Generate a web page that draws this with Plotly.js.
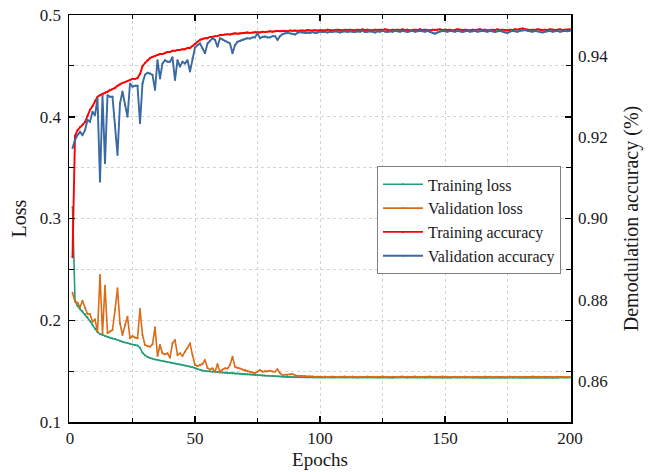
<!DOCTYPE html>
<html>
<head>
<meta charset="utf-8">
<script src="https://cdn.plot.ly/plotly-3.0.1.min.js"></script>
<style>html,body{margin:0;padding:0;background:#fff;}#chart{width:656px;height:472px;}</style>
</head>
<body>
<div id="chart"></div>
<script>
const epochs = Array.from({length: 200}, (_, i) => i + 1);

const trainLoss = [
0.3113,0.2199,0.2140,0.2111,0.2091,0.2061,0.2032,0.1993,0.1953,0.1914,
0.1884,0.1865,0.1855,0.1845,0.1835,0.1826,0.1821,0.1816,0.1806,0.1796,
0.1786,0.1781,0.1776,0.1767,0.1762,0.1757,0.1752,0.1730,0.1680,0.1655,
0.1640,0.1630,0.1622,0.1614,0.1609,0.1604,0.1599,0.1595,0.1590,0.1585,
0.1580,0.1575,0.1570,0.1565,0.1560,0.1555,0.1550,0.1545,0.1541,0.1531,
0.1521,0.1511,0.1506,0.1501,0.1499,0.1497,0.1494,0.1492,0.1489,0.1486,
0.1484,0.1482,0.1480,0.1479,0.1477,0.1475,0.1474,0.1472,0.1470,0.1468,
0.1467,0.1466,0.1464,0.1463,0.1462,0.1460,0.1458,0.1456,0.1455,0.1453,
0.1451,0.1450,0.1449,0.1447,0.1445,0.1444,0.1443,0.1442,0.1441,0.1441,
0.1440,0.1439,0.1440,0.1439,0.1438,0.1439,0.1438,0.1438,0.1439,0.1438,
0.1438,0.1437,0.1439,0.1438,0.1437,0.1438,0.1439,0.1437,0.1438,0.1437,
0.1438,0.1439,0.1437,0.1438,0.1436,0.1438,0.1437,0.1439,0.1438,0.1437,
0.1438,0.1437,0.1436,0.1438,0.1437,0.1439,0.1437,0.1438,0.1436,0.1437,
0.1438,0.1437,0.1439,0.1437,0.1436,0.1438,0.1437,0.1438,0.1436,0.1437,
0.1438,0.1436,0.1437,0.1438,0.1437,0.1436,0.1438,0.1437,0.1436,0.1438,
0.1437,0.1436,0.1438,0.1437,0.1436,0.1437,0.1438,0.1436,0.1437,0.1438,
0.1436,0.1437,0.1438,0.1436,0.1437,0.1436,0.1438,0.1437,0.1436,0.1437,
0.1438,0.1436,0.1437,0.1436,0.1438,0.1437,0.1436,0.1437,0.1438,0.1436,
0.1437,0.1436,0.1438,0.1437,0.1436,0.1437,0.1436,0.1438,0.1437,0.1436,
0.1437,0.1438,0.1436,0.1437,0.1436,0.1438,0.1437,0.1436,0.1437,0.1437
];

const valLoss = [
0.2271,0.2182,0.2173,0.2127,0.2192,0.2117,0.2061,0.2061,0.1986,0.2009,
0.1887,0.2445,0.1872,0.2340,0.1872,0.1890,0.1904,0.2100,0.2314,0.1970,
0.1855,0.1950,0.2035,0.1822,0.1845,0.1830,0.1822,0.2111,0.1855,0.1757,
0.1745,0.1740,0.1764,0.1931,0.1649,0.1757,0.1675,0.1665,0.1675,0.1632,
0.1773,0.1806,0.1658,0.1675,0.1649,0.1691,0.1724,0.1773,0.1658,0.1560,
0.1550,0.1560,0.1570,0.1609,0.1530,0.1515,0.1528,0.1494,0.1570,0.1490,
0.1515,0.1528,0.1525,0.1560,0.1642,0.1543,0.1530,0.1525,0.1515,0.1511,
0.1500,0.1494,0.1488,0.1479,0.1495,0.1511,0.1494,0.1500,0.1498,0.1504,
0.1496,0.1494,0.1518,0.1480,0.1462,0.1465,0.1462,0.1468,0.1472,0.1458,
0.1452,0.1455,0.1450,0.1452,0.1448,0.1450,0.1447,0.1445,0.1448,0.1445,
0.1443,0.1446,0.1442,0.1444,0.1447,0.1443,0.1441,0.1445,0.1443,0.1446,
0.1442,0.1444,0.1447,0.1443,0.1441,0.1445,0.1442,0.1444,0.1446,0.1442,
0.1444,0.1441,0.1445,0.1443,0.1447,0.1442,0.1444,0.1441,0.1445,0.1443,
0.1441,0.1444,0.1446,0.1442,0.1444,0.1441,0.1443,0.1446,0.1442,0.1444,
0.1441,0.1445,0.1443,0.1447,0.1442,0.1444,0.1441,0.1443,0.1446,0.1442,
0.1444,0.1441,0.1443,0.1445,0.1442,0.1444,0.1441,0.1446,0.1443,0.1441,
0.1444,0.1442,0.1445,0.1441,0.1443,0.1446,0.1442,0.1444,0.1441,0.1443,
0.1445,0.1442,0.1444,0.1441,0.1443,0.1446,0.1442,0.1444,0.1441,0.1445,
0.1442,0.1444,0.1441,0.1443,0.1446,0.1442,0.1444,0.1441,0.1443,0.1445,
0.1442,0.1444,0.1441,0.1443,0.1445,0.1442,0.1444,0.1441,0.1443,0.1442
];

const trainAcc = [
0.8905,0.9203,0.9217,0.9225,0.9230,0.9237,0.9252,0.9267,0.9276,0.9289,
0.9299,0.9303,0.9306,0.9308,0.9311,0.9316,0.9318,0.9321,0.9326,0.9330,
0.9333,0.9335,0.9338,0.9340,0.9343,0.9343,0.9345,0.9355,0.9374,0.9382,
0.9389,0.9394,0.9397,0.9399,0.9402,0.9404,0.9404,0.9407,0.9409,0.9409,
0.9412,0.9412,0.9414,0.9414,0.9416,0.9416,0.9419,0.9419,0.9424,0.9429,
0.9434,0.9439,0.9441,0.9443,0.9443,0.9446,0.9446,0.9448,0.9448,0.9451,
0.9451,0.9452,0.9453,0.9452,0.9454,0.9455,0.9454,0.9455,0.9456,0.9456,
0.9457,0.9456,0.9457,0.9458,0.9458,0.9457,0.9459,0.9458,0.9459,0.9460,
0.9459,0.9460,0.9461,0.9460,0.9461,0.9461,0.9460,0.9462,0.9461,0.9462,
0.9461,0.9462,0.9462,0.9461,0.9463,0.9462,0.9462,0.9463,0.9462,0.9463,
0.9463,0.9462,0.9464,0.9463,0.9462,0.9463,0.9464,0.9463,0.9462,0.9464,
0.9463,0.9464,0.9463,0.9462,0.9464,0.9463,0.9465,0.9463,0.9464,0.9463,
0.9462,0.9464,0.9463,0.9464,0.9463,0.9465,0.9463,0.9462,0.9464,0.9463,
0.9464,0.9463,0.9465,0.9463,0.9464,0.9462,0.9463,0.9464,0.9463,0.9465,
0.9463,0.9464,0.9463,0.9462,0.9464,0.9463,0.9464,0.9465,0.9463,0.9464,
0.9463,0.9464,0.9462,0.9463,0.9465,0.9464,0.9463,0.9464,0.9463,0.9462,
0.9464,0.9463,0.9464,0.9465,0.9463,0.9464,0.9462,0.9463,0.9464,0.9463,
0.9465,0.9463,0.9464,0.9463,0.9462,0.9464,0.9463,0.9465,0.9464,0.9466,
0.9467,0.9465,0.9464,0.9463,0.9464,0.9463,0.9465,0.9464,0.9463,0.9464,
0.9463,0.9465,0.9464,0.9463,0.9464,0.9465,0.9463,0.9464,0.9464,0.9465
];

const valAcc = [
0.9173,0.9193,0.9205,0.9213,0.9205,0.9217,0.9242,0.9238,0.9262,0.9254,
0.9295,0.9090,0.9303,0.9136,0.9303,0.9299,0.9299,0.9230,0.9156,0.9283,
0.9312,0.9280,0.9250,0.9332,0.9324,0.9326,0.9326,0.9234,0.9332,0.9353,
0.9358,0.9356,0.9353,0.9316,0.9389,0.9344,0.9381,0.9389,0.9385,0.9385,
0.9396,0.9340,0.9389,0.9373,0.9385,0.9381,0.9389,0.9361,0.9394,0.9420,
0.9426,0.9430,0.9418,0.9406,0.9430,0.9436,0.9443,0.9439,0.9422,0.9443,
0.9440,0.9436,0.9433,0.9430,0.9406,0.9426,0.9434,0.9437,0.9439,0.9441,
0.9443,0.9442,0.9445,0.9445,0.9455,0.9443,0.9446,0.9447,0.9445,0.9445,
0.9448,0.9448,0.9439,0.9448,0.9453,0.9455,0.9456,0.9455,0.9454,0.9452,
0.9456,0.9458,0.9457,0.9456,0.9457,0.9456,0.9458,0.9456,0.9457,0.9459,
0.9458,0.9459,0.9457,0.9459,0.9458,0.9460,0.9459,0.9457,0.9459,0.9460,
0.9458,0.9460,0.9459,0.9458,0.9460,0.9459,0.9461,0.9458,0.9459,0.9460,
0.9459,0.9457,0.9460,0.9459,0.9461,0.9459,0.9458,0.9460,0.9459,0.9461,
0.9460,0.9459,0.9461,0.9460,0.9458,0.9460,0.9461,0.9459,0.9460,0.9461,
0.9460,0.9459,0.9461,0.9458,0.9456,0.9454,0.9457,0.9460,0.9461,0.9460,
0.9459,0.9461,0.9460,0.9459,0.9461,0.9460,0.9458,0.9460,0.9461,0.9459,
0.9460,0.9461,0.9459,0.9460,0.9461,0.9460,0.9459,0.9461,0.9460,0.9458,
0.9460,0.9461,0.9459,0.9457,0.9456,0.9459,0.9461,0.9460,0.9459,0.9461,
0.9462,0.9463,0.9461,0.9460,0.9459,0.9461,0.9460,0.9458,0.9457,0.9459,
0.9460,0.9461,0.9459,0.9460,0.9461,0.9459,0.9460,0.9461,0.9460,0.9461
];

const seriesNames = ['Training loss', 'Validation loss', 'Training accuracy', 'Validation accuracy'];
const seriesColors = ['#1f9e78', '#dd6a14', '#ff0000', '#3a69a3'];
const accTickVals = [0.86, 0.88, 0.90, 0.92, 0.94];
const accTickText = ['0.86', '0.88', '0.90', '0.92', '0.94'];

const FONT = '"Times New Roman", "Liberation Serif", "DejaVu Serif", serif';
const gridCol = '#d4d4d4';
const gridDash = '3px,3px';
const TXT = '#1a1a1a';

function mk(y, i, axis, w) {
  return {
    x: epochs, y: y, name: seriesNames[i], yaxis: axis,
    type: 'scatter', mode: 'lines+markers',
    line: {color: seriesColors[i], width: w},
    marker: {color: seriesColors[i], size: 2}
  };
}

const data = [
  mk(trainLoss, 0, 'y', 1.6),
  mk(valLoss, 1, 'y', 1.6),
  mk(trainAcc, 2, 'y2', 1.9),
  mk(valAcc, 3, 'y2', 1.9)
];

const layout = {
  width: 656, height: 472,
  margin: {l: 69, r: 85, t: 15, b: 50},
  paper_bgcolor: '#fff', plot_bgcolor: '#fff',
  font: {family: FONT, size: 17, color: TXT},
  showlegend: true,
  legend: {
    x: 0.6135, y: 0.628, xanchor: 'left', yanchor: 'top',
    bgcolor: '#fff', bordercolor: '#808080', borderwidth: 1,
    font: {family: FONT, size: 16, color: TXT},
    tracegroupgap: 0, itemwidth: 40
  },
  xaxis: {
    range: [-0.4, 200.4], tick0: 0, dtick: 50,
    ticks: 'inside', ticklen: 6, tickwidth: 1.5, tickcolor: '#000',
    showline: true, linecolor: '#000', linewidth: 1.5, mirror: 'ticks',
    showgrid: true, gridcolor: gridCol, griddash: gridDash, gridwidth: 1,
    zeroline: false,
    tickfont: {family: FONT, size: 17, color: TXT},
    minor: {dtick: 25, ticks: 'inside', ticklen: 4, tickwidth: 1.2, tickcolor: '#000',
            showgrid: true, gridcolor: gridCol, griddash: gridDash, gridwidth: 1},
    title: {text: 'Epochs', font: {family: FONT, size: 19, color: TXT}, standoff: 6}
  },
  yaxis: {
    range: [0.1, 0.5], tick0: 0.1, dtick: 0.1, tickformat: '.1f',
    ticks: 'inside', ticklen: 6, tickwidth: 1.5, tickcolor: '#000',
    showline: true, linecolor: '#000', linewidth: 1.5, mirror: 'ticks',
    showgrid: true, gridcolor: gridCol, griddash: gridDash, gridwidth: 1,
    zeroline: false, ticklabelstandoff: 3,
    tickfont: {family: FONT, size: 17, color: TXT},
    minor: {dtick: 0.05, ticks: 'inside', ticklen: 5, tickwidth: 1.2, tickcolor: '#000',
            showgrid: true, gridcolor: gridCol, griddash: gridDash, gridwidth: 1},
    title: {text: 'Loss', font: {family: FONT, size: 20, color: TXT}, standoff: 8}
  },
  yaxis2: {
    overlaying: 'y', side: 'right', range: [0.85, 0.95],
    tickvals: accTickVals, ticktext: accTickText,
    ticks: '', showline: false, showgrid: false, zeroline: false,
    ticklabelstandoff: 6,
    tickfont: {family: FONT, size: 17, color: TXT},
    title: {text: 'Demodulation accuracy (%)', font: {family: FONT, size: 20, color: TXT}, standoff: 16}
  }
};

Plotly.newPlot('chart', data, layout, {displayModeBar: false, staticPlot: true});
</script>
</body>
</html>
